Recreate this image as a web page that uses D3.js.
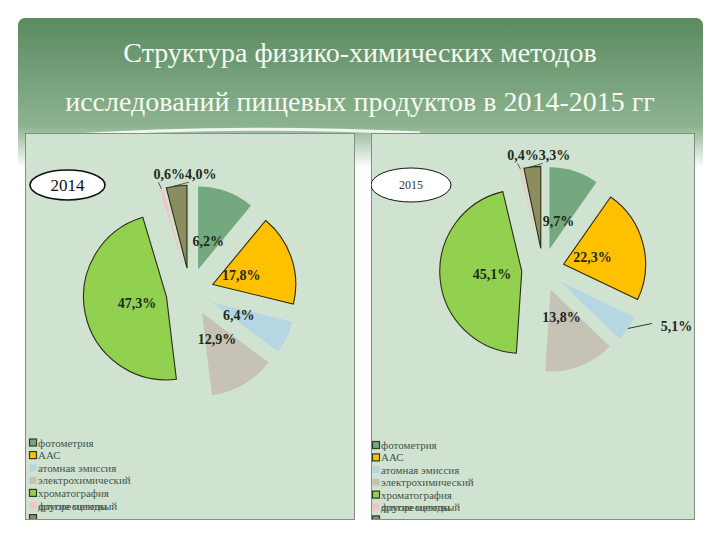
<!DOCTYPE html>
<html><head><meta charset="utf-8">
<script src="https://cdn.jsdelivr.net/npm/d3@7"></script>
<style>html,body{margin:0;padding:0;background:#fff;}svg{display:block;}
svg text{font-family:"Liberation Serif","Times New Roman",serif;}</style>
</head><body>
<script>
// ---------- data ----------
const categories = ["фотометрия","ААС","атомная эмиссия","электрохимический","хроматография","флуоресцентный","другие методы"];
const titleLines = ["Структура физико-химических методов","исследований пищевых продуктов в 2014-2015 гг"];
const years = ["2014","2015"];
// slice sizes as drawn
const slices2014 = [11.0, 17.8, 6.4, 12.9, 47.3, 0.6, 4.0];
const slices2015 = [9.7, 22.3, 5.1, 13.8, 45.1, 0.4, 3.3];
// data labels as printed
const labels2014 = ["6,2%","17,8%","6,4%","12,9%","47,3%","0,6%","4,0%"];
const labels2015 = ["9,7%","22,3%","5,1%","13,8%","45,1%","0,4%","3,3%"];

// ---------- styles ----------
const colors = ["#74a87e","#ffc000","#b5d6e2","#c6c2b6","#92d050","#f2c2c6","#8b8c60"];
const outlined = [false,true,false,false,true,false,true];
const swatchOutlined = [true,true,false,false,true,false,true];

const W=720,H=540;
const svg=d3.select("body").append("svg").attr("width",W).attr("height",H);
const defs=svg.append("defs");
const g1=defs.append("linearGradient").attr("id","hdr").attr("x1",0).attr("y1",0).attr("x2",0).attr("y2",1);
g1.append("stop").attr("offset","0%").attr("stop-color","#5a8a60");
g1.append("stop").attr("offset","72%").attr("stop-color","#8cb38f");
g1.append("stop").attr("offset","100%").attr("stop-color","#ffffff");

// header band
svg.append("rect").attr("x",18).attr("y",18).attr("width",685).attr("height",150).attr("rx",7).attr("fill","url(#hdr)");
// decorative white swoosh
svg.append("path").attr("d","M60,136 Q230,124 420,133").attr("fill","none").attr("stroke","#ffffff").attr("stroke-width",3).attr("opacity",0.85);

// title
svg.append("g").selectAll("text").data(titleLines).join("text")
  .attr("x",360).attr("y",(d,i)=>62+i*49).attr("text-anchor","middle")
  .style("font-family","'Liberation Serif','Times New Roman',serif").attr("font-size",28)
  .attr("fill","#f6faf2").text(d=>d);

// ---------- panels ----------
const panels=[
  {x:25,y:133,w:329,h:386,cx:190,cy:292,r:83,ex:24,slices:slices2014,labels:labels2014,year:years[0],
   ell:{cx:67.5,cy:185,rx:37.5,ry:15,fs:17,sw:1.6,col:"#111"},legY:442.5,legStep:12.6,legX:29},
  {x:371,y:133,w:323,h:386,cx:543,cy:269.6,r:82,ex:21.3,slices:slices2015,labels:labels2015,year:years[1],
   ell:{cx:411,cy:185,rx:40,ry:17,fs:12,sw:1,col:"#333"},legY:445,legStep:12.4,legX:372}
];

const pie=d3.pie().sort(null).value(d=>d);
const serif="'Liberation Serif','Times New Roman',serif";

panels.forEach((p,pi)=>{
  const cid="clip"+pi;
  defs.append("clipPath").attr("id",cid).append("rect").attr("x",p.x).attr("y",p.y).attr("width",p.w).attr("height",p.h);
  svg.append("rect").attr("x",p.x+0.5).attr("y",p.y+0.5).attr("width",p.w).attr("height",p.h)
    .attr("fill","#d0e3d1").attr("stroke","#7f8f80").attr("stroke-width",1);
  const pg=svg.append("g").attr("clip-path",`url(#${cid})`);

  const arcs=pie(p.slices);
  const arc=d3.arc().innerRadius(0).outerRadius(p.r);
  const dir=a=>[Math.sin(a),-Math.cos(a)];
  // slices
  pg.append("g").selectAll("path").data(arcs).join("path")
    .attr("transform",d=>{const m=(d.startAngle+d.endAngle)/2;const [sx,sy]=dir(m);return `translate(${p.cx+sx*p.ex},${p.cy+sy*p.ex})`;})
    .attr("d",arc).attr("fill",(d,i)=>colors[i])
    .attr("stroke",(d,i)=>outlined[i]?"#2d2d12":"none").attr("stroke-width",1.1);

  const boldLbl=s=>s.style("font-family",serif).attr("font-weight","bold").attr("font-size",14).attr("fill","#1c2a20");
  // inside labels (first five)
  const inside=arcs.slice(0,5).filter((d,i)=>!(pi===1&&i===2));
  pg.append("g").selectAll("text").data(inside).join("text")
    .attr("x",d=>{const m=(d.startAngle+d.endAngle)/2;return p.cx+Math.sin(m)*(p.ex+30);})
    .attr("y",d=>{const m=(d.startAngle+d.endAngle)/2;return p.cy-Math.cos(m)*(p.ex+30)+5;})
    .attr("text-anchor","middle").call(boldLbl).text(d=>p.labels[d.index]);

  // 2015 blue label outside with leader
  if(pi===1){
    const d=arcs[2];const m=(d.startAngle+d.endAngle)/2;const [sx,sy]=dir(m);
    const ox=p.cx+sx*(p.ex+p.r), oy=p.cy+sy*(p.ex+p.r);
    pg.append("line").attr("x1",ox).attr("y1",oy).attr("x2",ox+24).attr("y2",oy-5).attr("stroke","#2b3a2e").attr("stroke-width",1);
    pg.append("text").attr("x",ox+33).attr("y",oy+3).call(boldLbl).text(p.labels[2]);
  }
  // top small labels (pink + olive)
  const pk=arcs[5], ol=arcs[6];
  const mo=(ol.startAngle+ol.endAngle)/2;
  const jx=p.cx+Math.sin(mo)*p.ex-2;
  const topY=p.cy-Math.cos(mo)*p.ex-p.r;
  const base=topY-6;
  pg.append("text").attr("x",jx).attr("y",base).attr("text-anchor","end").call(boldLbl).text(p.labels[5]);
  pg.append("text").attr("x",jx).attr("y",base).attr("text-anchor","start").call(boldLbl).text(p.labels[6]);
  const mp=(pk.startAngle+pk.endAngle)/2;
  const px=p.cx+Math.sin(mp)*(p.ex+p.r), py=p.cy-Math.cos(mp)*(p.ex+p.r);
  pg.append("line").attr("x1",px).attr("y1",py).attr("x2",px-3).attr("y2",base+3).attr("stroke","#2b3a2e").attr("stroke-width",0.8);
  const ma=ol.startAngle+0.35*(ol.endAngle-ol.startAngle);
  const qx=p.cx+Math.sin(mo)*p.ex+Math.sin(ma)*p.r, qy=p.cy-Math.cos(mo)*p.ex-Math.cos(ma)*p.r;
  pg.append("line").attr("x1",qx).attr("y1",qy).attr("x2",jx+4).attr("y2",base+3).attr("stroke","#2b3a2e").attr("stroke-width",0.8);

  // year ellipse
  pg.append("ellipse").attr("cx",p.ell.cx).attr("cy",p.ell.cy).attr("rx",p.ell.rx).attr("ry",p.ell.ry)
    .attr("fill","#fff").attr("stroke","#111").attr("stroke-width",p.ell.sw);
  pg.append("text").attr("x",p.ell.cx).attr("y",p.ell.cy+p.ell.fs*0.35).attr("text-anchor","middle")
    .style("font-family",serif).attr("font-size",p.ell.fs).attr("fill",p.ell.col).text(p.year);

  // legend
  const ly=i=>p.legY+i*p.legStep;
  const lg=pg.append("g");
  lg.selectAll("rect").data(categories).join("rect")
    .attr("x",p.legX+0.5).attr("y",(d,i)=>ly(i)-3.5).attr("width",7).attr("height",7)
    .attr("fill",(d,i)=>colors[i]).attr("stroke",(d,i)=>swatchOutlined[i]?"#2d3a2d":"none").attr("stroke-width",1.2);
  lg.selectAll("text").data(categories).join("text")
    .attr("x",p.legX+9).attr("y",(d,i)=>ly(Math.min(i,5))+4)
    .style("font-family",serif).attr("font-size",11).attr("fill","#46544a").text(d=>d);
});
</script>
</body></html>
